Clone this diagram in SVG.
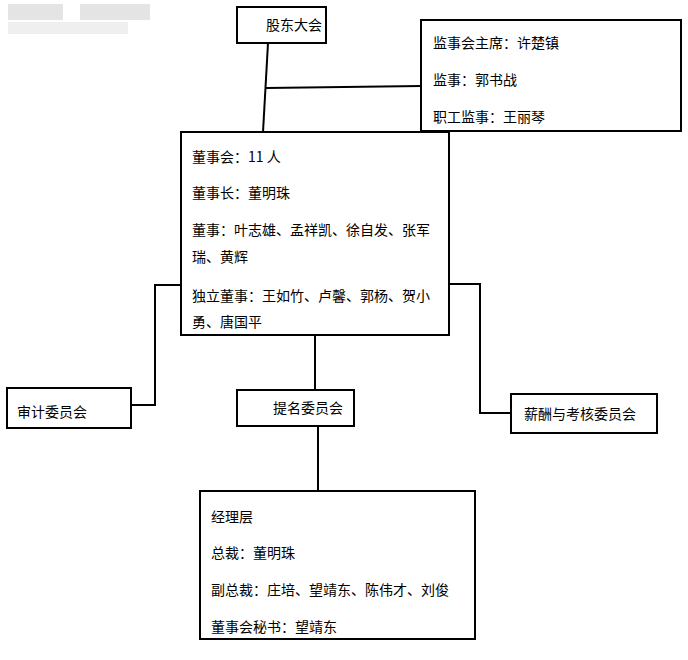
<svg xmlns="http://www.w3.org/2000/svg" width="688" height="660" viewBox="0 0 688 660">
<style>
.b{fill:#fff;stroke:#000;stroke-width:2}
.l{stroke:#000;stroke-width:2;fill:none}
text{font-family:"Noto Sans CJK SC","Noto Sans",sans-serif;font-size:14px;fill:#000}
</style>
<rect width="688" height="660" fill="#fff"/>
<g fill="#e4e4e4"><rect x="8" y="4" width="55" height="16"/><rect x="80" y="4" width="70" height="16"/><rect x="8" y="22" width="120" height="12" fill="#efefef"/></g>
<g id="connectors">
<polyline class="l" points="268,43 263,132"/>
<polyline class="l" points="266,88 421,86"/>
<polyline class="l" points="181,285 155,285 155,405 131,405"/>
<polyline class="l" points="449,284 480,284 480,413 511,413"/>
<polyline class="l" points="315,335 315,390"/>
<polyline class="l" points="318,426 318,491"/>
</g>
<g id="gudong"><rect class="b" x="237" y="7" width="89" height="36"/><text x="266" y="30">股东大会</text></g>
<g id="jianshi"><rect class="b" x="421" y="20" width="260" height="111"/>
<text x="433" y="48">监事会主席：许楚镇</text><text x="433" y="85">监事：郭书战</text><text x="433" y="122">职工监事：王丽琴</text></g>
<g id="dongshi"><rect class="b" x="181" y="132" width="268" height="203"/>
<text x="192" y="162">董事会：11 人</text><text x="192" y="198">董事长：董明珠</text>
<text x="192" y="235">董事：叶志雄、孟祥凯、徐自发、张军</text><text x="192" y="262">瑞、黄辉</text>
<text x="192" y="301">独立董事：王如竹、卢馨、郭杨、贺小</text><text x="192" y="327">勇、唐国平</text></g>
<g id="shenji"><rect class="b" x="7" y="388" width="124" height="40"/><text x="17" y="417">审计委员会</text></g>
<g id="timing"><rect class="b" x="237" y="390" width="117" height="36"/><text x="273" y="413">提名委员会</text></g>
<g id="xinchou"><rect class="b" x="511" y="394" width="146" height="39"/><text x="524" y="419">薪酬与考核委员会</text></g>
<g id="jingli"><rect class="b" x="200" y="491" width="275" height="148"/>
<text x="211" y="522">经理层</text><text x="211" y="558">总裁：董明珠</text>
<text x="211" y="595">副总裁：庄培、望靖东、陈伟才、刘俊</text><text x="211" y="632">董事会秘书：望靖东</text></g>
</svg>
